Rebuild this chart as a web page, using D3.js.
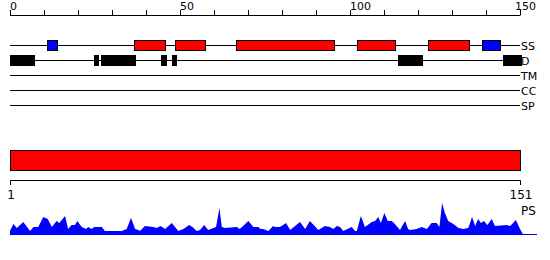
<!DOCTYPE html>
<html>
<head>
<meta charset="utf-8">
<script src="https://cdn.jsdelivr.net/npm/d3@7"></script>
<style>
  body { margin: 0; background: #fff; }
  text { font-family: "DejaVu Sans", sans-serif; fill: #000; }
</style>
</head>
<body>
<div id="chart"></div>
<script>
// Top ruler ticks (residue units) and labelled ones
var rulerTicks = d3.range(0, 151, 10);
var rulerLabels = [0, 50, 100, 150];

// Track names, top to bottom
var tracks = ["SS", "D", "TM", "CC", "SP"];

// Secondary structure: helices (red) and strands (blue), [start, end]
var ssHelix = [[36.6, 45.8], [48.6, 57.4], [66.6, 95.5], [102.2, 113.3], [123, 135.2]];
var ssStrand = [[11, 14], [138.8, 144]];

// Disordered regions (black), [start, end]
var disorder = [[0, 7], [24.7, 25.9], [26.8, 36.7], [44.4, 45.8], [47.6, 48.7], [114.2, 121.4], [145, 150.2]];

// Whole-sequence domain bar and its end labels
var domainBar = [1, 151];
var domainLabels = ["1", "151"];

// PS profile: residue position and score
var psPos = [1.0, 2.0, 3.0, 4.9, 6.9, 7.9, 9.3, 10.8, 12.1, 13.3, 14.7, 15.5, 17.2, 18.1, 19.1, 20.1,
  20.8, 22.1, 23.4, 24.0, 25.0, 25.8, 28.0, 28.9, 33.9, 35.3, 36.6, 37.8, 38.7, 39.2, 40.7, 43.1,
  44.1, 45.3, 46.6, 48.6, 50.5, 52.0, 53.7, 54.7, 55.9, 56.9, 58.1, 59.3, 61.6, 62.6, 63.3, 64.2,
  67.7, 68.6, 71.1, 72.6, 74.0, 74.7, 75.5, 77.0, 78.4, 78.9, 80.4, 82.2, 83.4, 86.3, 87.8, 89.2,
  91.7, 93.6, 95.1, 96.1, 97.1, 98.1, 99.0, 101.5, 102.5, 103.0, 104.2, 105.4, 107.4, 108.4, 109.3,
  110.1, 111.1, 112.1, 113.3, 114.2, 115.7, 117.2, 118.1, 118.6, 120.6, 122.1, 123.6, 125.0, 126.5,
  127.3, 128.1, 128.9, 129.9, 131.4, 132.9, 134.3, 135.8, 136.9, 137.8, 138.7, 139.5, 140.4, 141.4,
  142.7, 143.6, 147.1, 148.1, 149.8, 151.0, 152.0];
var psScore = [4, 11, 7, 13, 4, 8, 8, 18, 16, 8, 14, 12, 19, 6, 10, 10,
  14, 8, 6, 8, 6, 8, 8, 4, 4, 6, 17, 6, 5, 4, 9, 8,
  7, 9, 6, 12, 4, 6, 10, 8, 4, 5, 10, 5, 8, 27, 8, 7,
  8, 6, 14, 8, 8, 6, 6, 4, 9, 8, 8, 12, 5, 13, 6, 14,
  5, 9, 8, 6, 9, 8, 4, 8, 4, 4, 19, 8, 13, 14, 18,
  12, 22, 14, 14, 11, 5, 14, 6, 5, 6, 8, 6, 12, 12,
  8, 32, 22, 14, 11, 7, 6, 7, 18, 9, 16, 12, 14, 10,
  16, 9, 10, 9, 15, 6, 0];

var width = 550, height = 260;
var left = 10, right = 520;

var svg = d3.select("#chart").append("svg")
  .attr("width", width)
  .attr("height", height);

// Crisp 1px lines
function px(v) { return Math.round(v) + 0.5; }

var xTop = d3.scaleLinear().domain([0, 150]).range([left, right]);
var xBottom = d3.scaleLinear().domain(domainBar).range([left, right]);
var yTrack = d3.scalePoint().domain(tracks).range([45, 105]);
var yPs = d3.scaleLinear().domain([0, 32]).range([235, 203]);

// ---- top ruler
var ruler = svg.append("g");
ruler.append("line")
  .attr("x1", xTop(0)).attr("x2", xTop(150))
  .attr("y1", 15.5).attr("y2", 15.5)
  .attr("stroke", "#000");
ruler.selectAll("line.tick").data(rulerTicks).enter().append("line")
  .attr("class", "tick")
  .attr("x1", function(d) { return px(xTop(d)); })
  .attr("x2", function(d) { return px(xTop(d)); })
  .attr("y1", 10).attr("y2", 15.5)
  .attr("stroke", "#000");
ruler.selectAll("text").data(rulerLabels).enter().append("text")
  .attr("x", function(d, i) { return xTop(d) + (i == rulerLabels.length - 1 ? -5 : 0); })
  .attr("y", 10)
  .attr("font-size", 11)
  .text(function(d) { return d; });

// ---- track lines and labels
var trackG = svg.append("g");
trackG.selectAll("line").data(tracks).enter().append("line")
  .attr("x1", left).attr("x2", right)
  .attr("y1", function(d) { return px(yTrack(d)); })
  .attr("y2", function(d) { return px(yTrack(d)); })
  .attr("stroke", "#000");
trackG.selectAll("text").data(tracks).enter().append("text")
  .attr("x", right + 1)
  .attr("y", function(d) { return yTrack(d) + 4.5; })
  .attr("font-size", 11)
  .text(function(d) { return d; });

// Draw a set of boxes on one track
function boxes(data, track, fill) {
  svg.append("g").selectAll("rect").data(data).enter().append("rect")
    .attr("x", function(d) { return px(xTop(d[0])); })
    .attr("width", function(d) { return Math.max(1, Math.round(xTop(d[1]) - xTop(d[0]))); })
    .attr("y", px(yTrack(track) - 5))
    .attr("height", 10)
    .attr("fill", fill)
    .attr("stroke", "#000");
}
boxes(ssHelix, "SS", "#ff0000");
boxes(ssStrand, "SS", "#0000ff");
boxes(disorder, "D", "#000");

// ---- domain bar and its axis
svg.append("rect")
  .attr("x", px(xBottom(domainBar[0])))
  .attr("width", Math.round(xBottom(domainBar[1]) - xBottom(domainBar[0])))
  .attr("y", 150.5).attr("height", 20)
  .attr("fill", "#ff0000")
  .attr("stroke", "#000");

var bottomAxis = svg.append("g");
bottomAxis.append("path")
  .attr("d", "M" + px(xBottom(1)) + ",185V180.5H" + px(xBottom(151)) + "V185")
  .attr("fill", "none")
  .attr("stroke", "#000");
bottomAxis.selectAll("text").data(domainBar).enter().append("text")
  .attr("x", function(d) { return xBottom(d) + 1; })
  .attr("y", 199)
  .attr("text-anchor", "middle")
  .attr("font-size", 12)
  .text(function(d, i) { return domainLabels[i]; });

// ---- PS profile
var area = d3.area()
  .x(function(d, i) { return xBottom(psPos[i]); })
  .y0(yPs(0))
  .y1(function(d) { return yPs(d); });
svg.append("path")
  .datum(psScore)
  .attr("d", area)
  .attr("fill", "#0000ff");
svg.append("line")
  .attr("x1", left).attr("x2", 537)
  .attr("y1", yPs(0) - 0.5).attr("y2", yPs(0) - 0.5)
  .attr("stroke", "#0000ff");
svg.append("text")
  .attr("x", right + 1)
  .attr("y", 215)
  .attr("font-size", 12)
  .text("PS");
</script>
</body>
</html>
